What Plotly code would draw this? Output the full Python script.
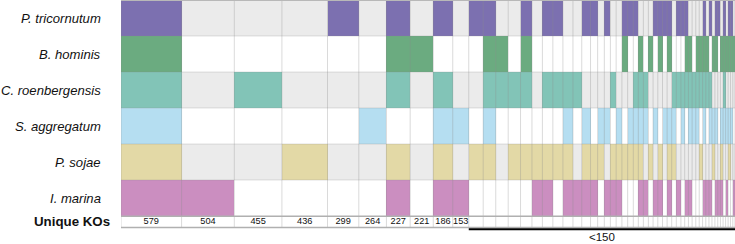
import numpy as np
import plotly.graph_objects as go

species = ["P. tricornutum", "B. hominis", "C. roenbergensis", "S. aggregatum", "P. sojae", "I. marina"]
colors = ["#7c70b0", "#6bab80", "#82c4b7", "#b5def1", "#e3d9a6", "#cb8ec0"]

# Unique KO count per intersection column (sorted, largest first)
counts = [579, 504, 455, 436, 299, 264, 227, 221, 186, 153,
          138, 120, 119, 118, 109, 100, 100, 96, 96, 84,
          84, 68, 64, 58, 55, 55, 55, 54, 48, 48,
          48, 45, 45, 45, 44, 44, 44, 44, 36, 36,
          35, 35, 33, 32, 31, 30, 29, 28, 27, 26,
          25, 24, 24, 23, 22, 21]

# Membership per column, species order as above (1 = present)
membership = ["111111", "000001", "001000", "000010", "100000", "000100", "111011", "010000", "101111", "000101",
              "100010", "111110", "011000", "001010", "111010", "000011", "101011", "101010", "001111", "001001",
              "100111", "100011", "000110", "100101", "001011", "000111", "110010", "100110", "101110", "011111",
              "001101", "010010", "100101", "110011", "100100", "110111", "001110", "101001", "101100", "111001",
              "011101", "001100", "011100", "011010", "111101", "011001", "101101", "010110", "110101", "100001",
              "010111", "111100", "010101", "110110", "110100", "010001"]

n_labeled = 10
small_label = "<150"

edges = np.concatenate([[0], np.cumsum(counts)])
centers = (edges[:-1] + edges[1:]) / 2
total = float(edges[-1])
ns = len(species)
FONT = "Arial, Liberation Sans, sans-serif"

fig = go.Figure()

# grey background bands for alternating rows
for i in range(ns):
    if i % 2 == 0:
        r = ns - 1 - i
        fig.add_shape(type="rect", x0=0, x1=total, y0=r, y1=r + 1, layer="below",
                      fillcolor="#ebebeb", line_width=0)

# filled cells
for i, sp in enumerate(species):
    r = ns - 1 - i
    idx = [j for j, m in enumerate(membership) if m[i] == "1"]
    fig.add_trace(go.Bar(
        x=[centers[j] for j in idx],
        width=[counts[j] for j in idx],
        y=[1] * len(idx),
        base=[r] * len(idx),
        marker=dict(color=colors[i], line=dict(width=0)),
        hoverinfo="skip",
    ))

# vertical grid lines at column boundaries
gx, gy = [], []
for e in edges:
    gx += [e, e, None]
    gy += [-0.32, 6, None]
fig.add_trace(go.Scatter(x=gx, y=gy, mode="lines",
                         line=dict(color="rgba(140,140,140,0.32)", width=1), hoverinfo="skip"))

# horizontal row separators
hx, hy = [], []
for r in range(1, ns):
    hx += [0, total, None]
    hy += [r, r, None]
fig.add_trace(go.Scatter(x=hx, y=hy, mode="lines",
                         line=dict(color="rgba(140,140,140,0.25)", width=1), hoverinfo="skip"))

# borders: top, matrix bottom, unique row bottom
for yy, col, w in [(6, "#b8b8b8", 2), (-0.01, "#b0b0b0", 1.5), (-0.32, "#b0b0b0", 1.5)]:
    fig.add_trace(go.Scatter(x=[0, total], y=[yy, yy], mode="lines",
                             line=dict(color=col, width=w), hoverinfo="skip"))

# count labels
fig.add_trace(go.Scatter(x=centers[:n_labeled], y=[-0.165] * n_labeled, mode="text",
                         text=[str(c) for c in counts[:n_labeled]],
                         textfont=dict(size=9.2, color="#111", family=FONT),
                         hoverinfo="skip"))

# black bracket line for small intersections
fig.add_trace(go.Scatter(x=[edges[n_labeled], total], y=[-0.365, -0.365], mode="lines",
                         line=dict(color="black", width=2), hoverinfo="skip"))

annotations = []
for i, sp in enumerate(species):
    r = ns - 1 - i
    annotations.append(dict(x=103 / 735, xref="paper", y=r + 0.5, yref="y", xanchor="right", yanchor="middle",
                            text="<i>" + sp + "</i>", showarrow=False,
                            font=dict(size=13.1, color="#111", family=FONT)))
annotations.append(dict(x=112 / 735, xref="paper", y=-0.165, yref="y", xanchor="right", yanchor="middle",
                        text="<b>Unique KOs</b>", showarrow=False,
                        font=dict(size=13.3, color="#111", family=FONT)))
annotations.append(dict(x=(edges[n_labeled] + total) / 2, xref="x", y=6 - 237.0 / 36, yref="y",
                        xanchor="center", yanchor="middle", text=small_label, showarrow=False,
                        font=dict(size=11.5, color="#111", family=FONT)))

fig.update_layout(
    width=735, height=244,
    margin=dict(l=0, r=0, t=0, b=0),
    paper_bgcolor="white", plot_bgcolor="white",
    barmode="overlay", bargap=0,
    showlegend=False,
    xaxis=dict(domain=[121 / 735, 1], range=[0, total], visible=False, fixedrange=True),
    yaxis=dict(domain=[0, 1], range=[6 - 244 / 36, 6], visible=False, fixedrange=True),
    annotations=annotations,
)

fig.write_html("out.html")
